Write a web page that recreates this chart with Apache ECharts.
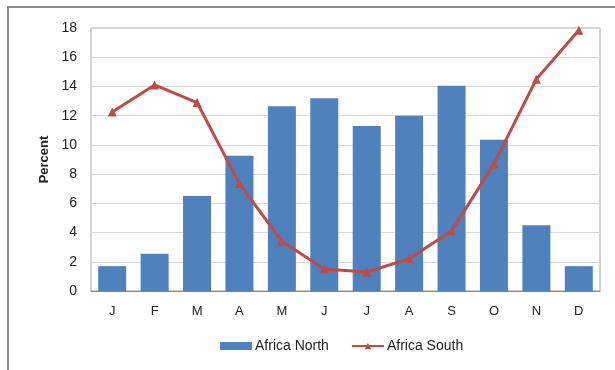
<!DOCTYPE html>
<html>
<head>
<meta charset="utf-8">
<script src="https://cdn.jsdelivr.net/npm/echarts@6/dist/echarts.min.js"></script>
<style>
  html,body{margin:0;padding:0;background:#fff;}
  #chart{width:615px;height:370px;}
</style>
</head>
<body>
<div id="chart"></div>
<script>
  // months
  var months = ['J','F','M','A','M','J','J','A','S','O','N','D']
  var africaNorth = [1.7, 2.55, 6.5, 9.25, 12.65, 13.2, 11.3, 12.0, 14.05, 10.35, 4.5, 1.7]
  var africaSouth = [12.25, 14.1, 12.9, 7.35, 3.4, 1.5, 1.3, 2.2, 4.1, 8.7, 14.5, 17.85]

  var myChart = echarts.init(document.getElementById('chart'))
  var font = 'Liberation Sans'

  var option = {
    animation: false,
    textStyle: {fontFamily: font},
    graphic: [{
      type: 'rect',
      shape: {x: 8, y: 7, width: 640, height: 400},
      style: {fill: 'none', stroke: '#8c8c8c', lineWidth: 2},
      silent: true
    }],
    grid: {
      left: 91, right: 15, top: 28, bottom: 79,
      show: true, borderColor: '#a6a6a6', borderWidth: 1
    },
    legend: {
      bottom: 12,
      left: 215,
      itemGap: 22,
      itemWidth: 32,
      itemHeight: 8,
      textStyle: {fontSize: 14, color: '#222', fontFamily: font, padding: [0, 0, 0, -2]},
      data: [
        {name: 'Africa North', icon: 'rect'},
        {name: 'Africa South'}
      ]
    },
    xAxis: {
      type: 'category',
      data: months,
      axisLine: {lineStyle: {color: '#868686', width: 1}},
      axisTick: {show: false},
      axisLabel: {color: '#222', fontSize: 13, margin: 14}
    },
    yAxis: {
      type: 'value',
      min: 0, max: 18, interval: 2,
      name: 'Percent',
      nameLocation: 'middle',
      nameGap: 38,
      nameTextStyle: {color: '#222', fontSize: 13, fontWeight: 'bold'},
      axisLine: {show: false},
      axisTick: {show: false},
      axisLabel: {color: '#222', fontSize: 14, margin: 14},
      splitLine: {lineStyle: {color: '#d9d9d9', width: 1}}
    },
    series: [
      {
        name: 'Africa North',
        type: 'bar',
        data: africaNorth,
        barCategoryGap: '34%',
        itemStyle: {color: '#4f81bd'}
      },
      {
        name: 'Africa South',
        type: 'line',
        data: africaSouth,
        symbol: 'triangle',
        symbolSize: 9,
        lineStyle: {color: '#be4b48', width: 3},
        itemStyle: {color: '#be4b48'}
      }
    ]
  }

  myChart.setOption(option)
</script>
</body>
</html>
